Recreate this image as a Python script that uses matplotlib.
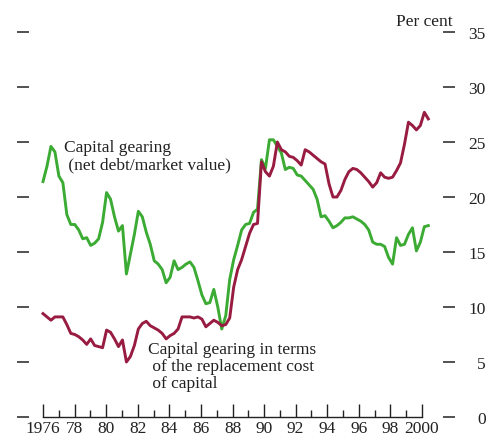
import numpy as np
import matplotlib
matplotlib.use("Agg")
import matplotlib.pyplot as plt
from matplotlib.ticker import FixedLocator

# quarterly observations, 1976 Q1 to 2000 Q2 (per cent)
gearing_market = [
    21.4, 22.8, 24.6, 24.1, 21.9, 21.3, 18.4, 17.5, 17.5, 17.0, 16.2, 16.3,
    15.6, 15.8, 16.2, 17.7, 20.4, 19.8, 18.2, 16.9, 17.4, 13.0, 14.8, 16.6,
    18.7, 18.2, 16.8, 15.7, 14.2, 13.9, 13.4, 12.2, 12.7, 14.2, 13.4, 13.6,
    13.9, 14.1, 13.6, 12.4, 11.1, 10.3, 10.4, 11.6, 10.0, 8.0, 9.2, 12.5,
    14.3, 15.6, 17.0, 17.5, 17.6, 18.6, 18.9, 23.4, 22.6, 25.2, 25.2, 24.6,
    24.0, 22.5, 22.7, 22.6, 22.0, 21.9, 21.5, 21.1, 20.7, 19.8, 18.2, 18.3,
    17.8, 17.2, 17.4, 17.7, 18.1, 18.1, 18.2, 18.0, 17.8, 17.5, 17.0, 15.9,
    15.7, 15.7, 15.5, 14.5, 13.9, 16.3, 15.6, 15.7, 16.6, 17.2, 15.1, 15.9,
    17.3, 17.4,
]
gearing_replacement = [
    9.4, 9.1, 8.8, 9.1, 9.1, 9.1, 8.4, 7.6, 7.5, 7.3, 7.0, 6.6,
    7.1, 6.5, 6.4, 6.3, 7.9, 7.7, 7.1, 6.4, 7.0, 5.0, 5.5, 6.5,
    8.0, 8.5, 8.7, 8.3, 8.1, 7.9, 7.6, 7.1, 7.4, 7.6, 8.0, 9.1,
    9.1, 9.1, 9.0, 9.1, 8.9, 8.2, 8.5, 8.8, 8.6, 8.3, 8.4, 9.0,
    11.8, 13.4, 14.3, 15.5, 16.7, 17.5, 17.6, 23.2, 22.3, 21.9, 22.8, 25.0,
    24.3, 24.1, 23.7, 23.6, 23.3, 22.9, 24.3, 24.1, 23.8, 23.5, 23.2, 23.0,
    21.2, 20.0, 20.0, 20.6, 21.6, 22.3, 22.6, 22.5, 22.2, 21.8, 21.4, 20.9,
    21.3, 22.2, 21.8, 21.7, 21.8, 22.4, 23.1, 24.8, 26.8, 26.5, 26.1, 26.5,
    27.7, 27.1,
]
major_years = list(range(1976, 2001, 2))
minor_years = list(range(1977, 2000, 2))
year_labels = ["1976", "78", "80", "82", "84", "86", "88", "90", "92",
               "94", "96", "98", "2000"]
y_ticks = [0, 5, 10, 15, 20, 25, 30, 35]

GREEN = "#3cab34"
MAROON = "#981c41"
INK = "#222222"

plt.rcParams["font.family"] = ["Liberation Serif", "DejaVu Serif"]
plt.rcParams["font.size"] = 12.5

dates = np.linspace(1976.0, 2000.4, len(gearing_market))

fig = plt.figure(figsize=(4.88, 4.39), dpi=100)
ax = fig.add_axes([29 / 488, 21 / 439, 414 / 488, 385 / 439])

ax.plot(dates, gearing_market, color=GREEN, lw=2.1, solid_joinstyle="round")
ax.plot(dates, gearing_replacement, color=MAROON, lw=2.1, solid_joinstyle="round")

ax.set_xlim(1975.113, 2001.33)
ax.set_ylim(0, 35)

for side in ["top", "left", "right"]:
    ax.spines[side].set_visible(False)
ax.spines["bottom"].set_bounds(1976, 2000)
ax.spines["bottom"].set_linewidth(1.0)
ax.spines["bottom"].set_color(INK)

ax.xaxis.set_major_locator(FixedLocator(major_years))
ax.xaxis.set_minor_locator(FixedLocator(minor_years))
ax.set_xticklabels(year_labels)
ax.tick_params(axis="x", which="major", direction="in", length=9.4, width=1.0,
               color=INK, labelcolor=INK, pad=2)
ax.tick_params(axis="x", which="minor", direction="in", length=5, width=1.0,
               color=INK)

ax.set_yticks(y_ticks)
ax.tick_params(axis="y", direction="out", length=8.6, width=1.1, color=INK,
               left=True, right=True, labelleft=False, labelright=True,
               labelcolor=INK, pad=22.3)
for lab in ax.get_yticklabels():
    lab.set_horizontalalignment("right")

ax.text(1977.33, 25.3, "Capital gearing\n (net debt/market value)",
        color=INK, va="top", ha="left", linespacing=1.1)
ax.text(1982.65, 6.95, "Capital gearing in terms\n of the replacement cost\n of capital",
        color=INK, va="top", ha="left", linespacing=1.1)
fig.text(453 / 488, 1 - 22 / 439, "Per cent", color=INK, ha="right", va="center")

fig.savefig("out.png", dpi=100)
